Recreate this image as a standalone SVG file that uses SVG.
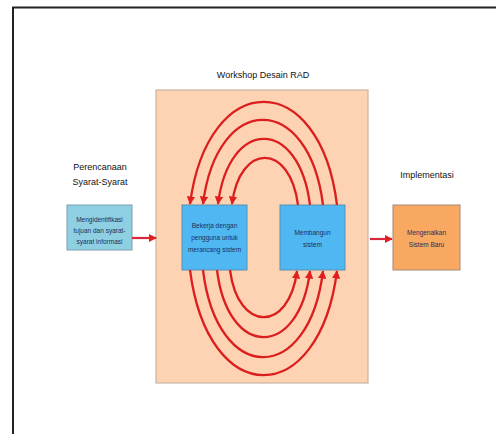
<svg xmlns="http://www.w3.org/2000/svg" width="496" height="434" viewBox="0 0 496 434">
<defs>
<marker id="ah" viewBox="0 0 10 10" refX="9" refY="5" markerWidth="3.6" markerHeight="3.6" orient="auto" markerUnits="strokeWidth">
<path d="M0,0 L10,5 L0,10 z" fill="#e01e1e"/>
</marker>
<style>
.title{font-family:"Liberation Sans",Arial,sans-serif;font-size:9px;fill:#111;text-anchor:middle}
.lbl{font-family:"Liberation Sans",Arial,sans-serif;font-size:6.5px;fill:#1d2e5a;text-anchor:middle}
.arc{fill:none;stroke:#dc1e1e;stroke-width:2.3;marker-end:url(#ah)}
.flow{fill:none;stroke:#d8283a;stroke-width:2.2;marker-end:url(#ah)}
</style>
</defs>
<rect width="496" height="434" fill="#fff"/>
<path d="M13,434 V7.5 H496" fill="none" stroke="#222" stroke-width="2"/>

<g id="workshop">
<rect x="156" y="90" width="212" height="293" fill="#fdd3b4" stroke="#c9b2a3" stroke-width="1.2"/>
<text class="title" x="263" y="78">Workshop Desain RAD</text>
</g>

<g id="perencanaan">
<text class="title" x="100" y="170">Perencanaan</text>
<text class="title" x="100" y="185">Syarat-Syarat</text>
<rect x="67" y="205" width="65" height="45" fill="#8ed0e2" stroke="#7aa0b0" stroke-width="1"/>
<text class="lbl" x="99.5" y="222">Mengidentifikasi</text>
<text class="lbl" x="99.5" y="233">tujuan dan syarat-</text>
<text class="lbl" x="99.5" y="244">syarat informasi</text>
</g>

<g id="bekerja">
<rect x="182" y="205" width="65" height="65" fill="#4fb8f2" stroke="#5a8fb0" stroke-width="1"/>
<text class="lbl" x="214.5" y="228">Bekerja dengan</text>
<text class="lbl" x="214.5" y="240">pengguna untuk</text>
<text class="lbl" x="214.5" y="252">merancang sistem</text>
</g>

<g id="membangun">
<rect x="280" y="205" width="65" height="65" fill="#4fb8f2" stroke="#5a8fb0" stroke-width="1"/>
<text class="lbl" x="312.5" y="235">Membangun</text>
<text class="lbl" x="312.5" y="247">sistem</text>
</g>

<g id="implementasi">
<text class="title" x="427" y="178">Implementasi</text>
<rect x="393" y="205" width="67" height="65" fill="#f9a862" stroke="#a08a78" stroke-width="1"/>
<text class="lbl" x="426.5" y="235">Mengenalkan</text>
<text class="lbl" x="426.5" y="247">Sistem Baru</text>
</g>

<g id="connectors">
<path class="flow" d="M132,238 H156"/>
<path class="flow" d="M370,239 H392"/>
<path class="arc" d="M337,205 C320,67.7 208,67.7 190,204"/>
<path class="arc" d="M323,205 C309,91.7 217,91.7 203,204"/>
<path class="arc" d="M310,205 C299,117 229,117 218,204"/>
<path class="arc" d="M298,205 C290,142.3 240,142.3 232,204"/>
<path class="arc" d="M230,270 C238,332.7 289,332.7 297,271"/>
<path class="arc" d="M217,270 C228,359.3 299,359.3 310,271"/>
<path class="arc" d="M203,270 C217,386 309,386 323,271"/>
<path class="arc" d="M190,270 C208,410 319,410 337,271"/>
</g>
</svg>
